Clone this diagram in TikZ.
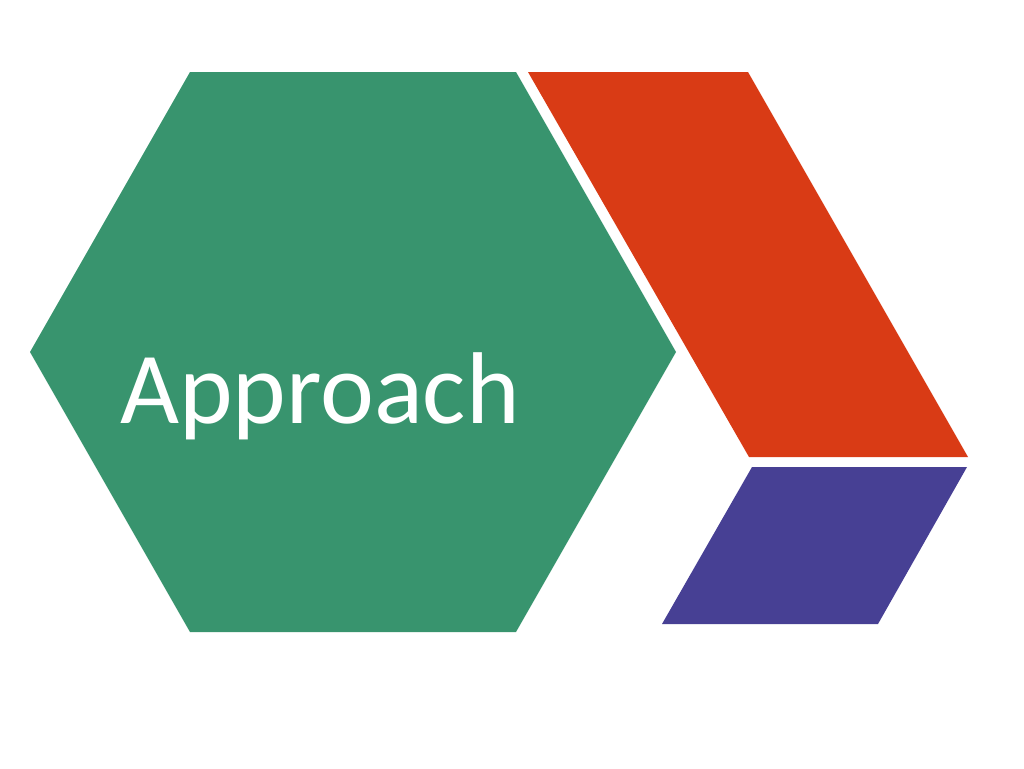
\documentclass[tikz,border=0pt]{standalone}
\usepackage{fontspec}
\setmainfont{Carlito}
\definecolor{hexgreen}{RGB}{56,148,110}
\definecolor{chevred}{RGB}{217,59,21}
\definecolor{chevblue}{RGB}{71,64,148}
\begin{document}
\begin{tikzpicture}[x=1pt,y=-1pt,
  shapefill/.style={fill=#1,draw=none},
  labeltext/.style={text=white,font=\fontsize{102}{112}\selectfont,anchor=base,inner sep=0pt}]
\useasboundingbox[fill=white] (0,0) rectangle (1024,768);
\fill[shapefill=hexgreen] (190,72) -- (516,72) -- (676,352) -- (516,632) -- (190,632) -- (30,352) -- cycle;
\fill[shapefill=chevred] (528,72) -- (748,72) -- (968,457) -- (749,457) -- cycle;
\fill[shapefill=chevblue] (752,467) -- (967,467) -- (878,624) -- (662,624) -- cycle;
\node[labeltext] (lbl) at (320,423) {Approach};
\end{tikzpicture}
\end{document}
